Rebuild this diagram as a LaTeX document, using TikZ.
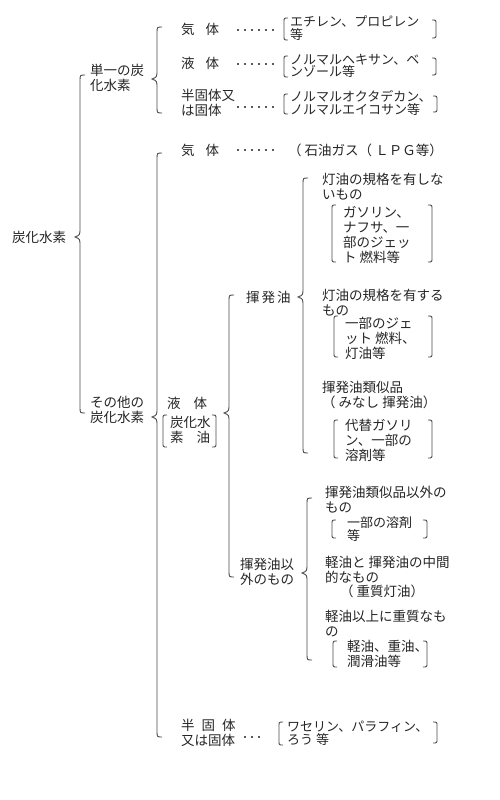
\documentclass[tikz,border=0pt]{standalone}
\usepackage{fontspec}
\setmainfont{Noto Sans CJK JP}
\newcommand\mybrace[4]{%
  \draw[brc] (#1+5,#2) .. controls (#1,#2) .. (#1,#2+6) -- (#1,#3-9)
    .. controls (#1,#3-2) .. (#1-5,#3) .. controls (#1,#3+2) .. (#1,#3+9)
    -- (#1,#4-6) .. controls (#1,#4) .. (#1+5,#4);}
\newcommand\lbrk[3]{%
  \draw[brc] (#1+4,#2) .. controls (#1,#2) .. (#1,#2+4) -- (#1,#3-4) .. controls (#1,#3) .. (#1+4,#3);}
\newcommand\rbrk[3]{%
  \draw[brc] (#1-4,#2) .. controls (#1,#2) .. (#1,#2+4) -- (#1,#3-4) .. controls (#1,#3) .. (#1-4,#3);}
\newcommand\leaderdots[3]{%
  \coordinate (#1a) at (#2); \coordinate (#1b) at (#3);
  \draw[leader] (#1a) -- (#1b);}
\tikzset{
  t/.style={anchor=west, inner sep=0pt, align=left, text=black!85,
    font=\fontsize{13.5pt}{15pt}\selectfont},
  ts/.style={t, font=\fontsize{13pt}{12.5pt}\selectfont},
  brc/.style={draw=black!70, line width=0.9pt},
  leader/.style={draw=black!65, line width=2pt, dash pattern=on 2pt off 5pt}
}
\begin{document}
\begin{tikzpicture}[x=1pt,y=-1pt]
\useasboundingbox[fill=white] (0,0) rectangle (500,800);
% root
\node[t] (root) at (12,237) {炭化水素};
\mybrace{80}{75}{237}{413}
% single
\node[t] (tan1) at (90,78) {単一の炭\\化水素};
\mybrace{157}{27}{79}{113}
\node[t] (g1) at (181,29) {気\hspace{11pt}体};
\leaderdots{d1}{237,30}{274,30}
\node[ts] (p1) at (290,28) {エチレン、プロピレン\\等};
\lbrk{284}{18}{40}\rbrk{436}{20}{38}
\node[t] (l1) at (181,63) {液\hspace{11pt}体};
\leaderdots{d2}{237,64}{274,64}
\node[ts] (p2) at (290,66) {ノルマルヘキサン、ベ\\ンゾール等};
\lbrk{284}{56}{77}\rbrk{436}{58}{75}
\node[t] (s1) at (181,103) {半固体又\\は固体};
\leaderdots{d3}{237,107}{274,107}
\node[ts] (p3) at (290,103) {ノルマルオクタデカン、\\ノルマルエイコサン等};
\lbrk{284}{94}{114}\rbrk{437}{96}{112}
% other
\node[t] (tan2) at (90,410) {その他の\\炭化水素};
\mybrace{157}{153}{417}{737}
\node[t] (g2) at (181,150) {気\hspace{11pt}体};
\leaderdots{d4}{237,150}{274,150}
\node[t] (p4) at (288,150) {（ 石油ガス（ ＬＰＧ等）};
% liquid
\node[t] (l2) at (167,403) {液\hspace{13pt}体};
\node[t] (tanyu) at (170,430) {炭化水\\素\hspace{13pt}油};
\lbrk{163}{415}{447}\rbrk{216}{415}{447}
\mybrace{229}{295}{413}{577}
% kihatsu
\node[t] (kh) at (246,297) {揮\hspace{2pt}発\hspace{2pt}油};
\mybrace{303}{178}{297}{453}
\node[t] (k1) at (322,187) {灯油の規格を有しな\\いもの};
\node[t] (k1b) at (343,235) {ガソリン、\\ナフサ、一\\部のジェッ\\ト 燃料等};
\lbrk{332}{205}{262}\rbrk{432}{205}{262}
\node[t] (k2) at (322,303) {灯油の規格を有する\\もの};
\node[t] (k2b) at (345,338) {一部のジェ\\ット 燃料、\\灯油等};
\lbrk{334}{316}{357}\rbrk{432}{316}{357}
\node[t] (k3) at (322,395) {揮発油類似品\\（ みなし 揮発油）};
\node[t] (k3b) at (345,440) {代替ガソリ\\ン、一部の\\溶剤等};
\lbrk{334}{420}{458}\rbrk{432}{420}{458}
% igai
\node[t] (igai) at (240,572) {揮発油以\\外のもの};
\mybrace{307}{498}{573}{660}
\node[t] (i1) at (325,500) {揮発油類似品以外の\\もの};
\node[ts] (i1b) at (347,529) {一部の溶剤\\等};
\lbrk{332}{520}{538}\rbrk{427}{520}{538}
\node[t] (i2) at (325,570) {軽油と 揮発油の中間\\的なもの};
\node[t] (i2b) at (340,591) {（ 重質灯油）};
\node[t] (i3) at (325,624) {軽油以上に重質なも\\の};
\node[t] (i3b) at (347,654) {軽油、重油、\\潤滑油等};
\lbrk{333}{641}{667}\rbrk{427}{641}{667}
% semi-solid
\node[t] (hk) at (181,733) {半\hspace{7pt}固\hspace{7pt}体\\又は固体};
\leaderdots{d5}{244,737}{260,737}
\node[ts] (p5) at (287,733) {ワセリン、パラフィン、\\ろう 等};
\lbrk{279}{722}{745}\rbrk{437}{722}{743}
\end{tikzpicture}
\end{document}
